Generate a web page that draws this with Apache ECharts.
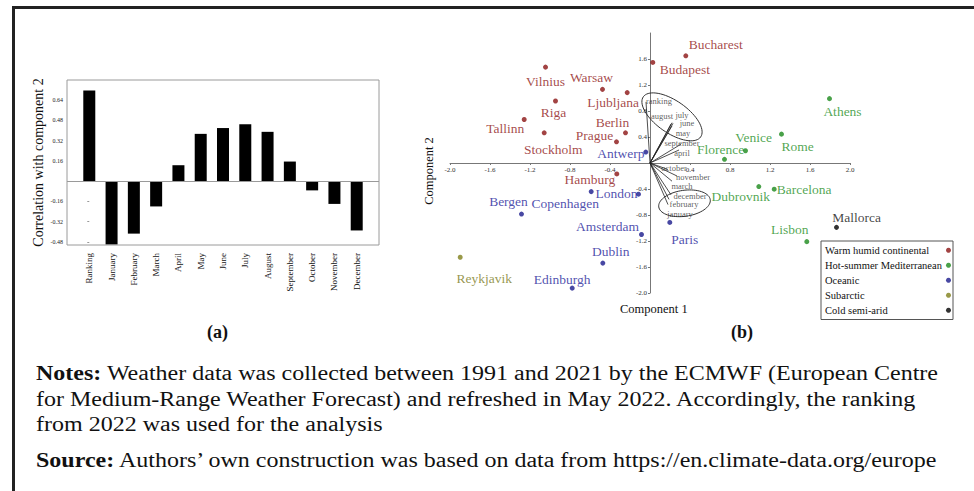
<!DOCTYPE html>
<html><head><meta charset="utf-8">
<script src="https://cdn.jsdelivr.net/npm/echarts@6/dist/echarts.min.js"></script>
<style>
html,body{margin:0;padding:0;background:#fff;}
#wrap{position:relative;width:974px;height:491px;overflow:hidden;background:#fff;}
#frame{position:absolute;left:12px;top:6px;width:970px;height:490px;border-top:3px solid #222;border-left:3px solid #222;}
#chart{position:absolute;left:0;top:0;width:974px;height:491px;}
#notes{position:absolute;left:36px;top:361px;font-family:'Liberation Serif','Times New Roman',serif;font-size:20px;line-height:25.5px;color:#111;white-space:nowrap;transform:scaleX(1.2);transform-origin:0 0;}
#notes b{font-weight:bold;}
</style></head><body>
<div id="wrap">
<div id="chart"></div>
<div id="frame"></div>
<div id="notes">
<div><b>Notes:</b> Weather data was collected between 1991 and 2021 by the ECMWF (European Centre</div>
<div>for Medium-Range Weather Forecast) and refreshed in May 2022. Accordingly, the ranking</div>
<div>from 2022 was used for the analysis</div>
<div style="margin-top:10px"><b>Source:</b> Authors’ own construction was based on data from https://en.climate-data.org/europe</div>
</div>
</div>
<script>
// ---------- Panel (a) data ----------
const barCategories = ['Ranking','January','February','March','April','May','June','July','August','September','October','November','December'];
const barValues = [0.717,-0.50,-0.415,-0.20,0.126,0.374,0.42,0.45,0.39,0.155,-0.073,-0.18,-0.39];
const barTickLabels = [-0.48,-0.32,-0.16,0.16,0.32,0.48,0.64];

// ---------- Panel (b) data ----------
const groupNames = ['Warm humid continental','Hot-summer Mediterranean','Oceanic','Subarctic','Cold semi-arid'];
const warmHumid = [['Vilnius',-1.045,1.475],['Warsaw',-0.475,1.133],['Ljubljana',-0.228,1.083],['Riga',-0.945,0.954],['Tallinn',-1.258,0.669],['Stockholm',-1.058,0.464],['Berlin',-0.245,0.464],['Prague',-0.335,0.326],['Hamburg',-0.332,-0.168],['Budapest',0.028,1.547],['Bucharest',0.358,1.649]];
const mediterranean = [['Athens',1.795,0.99],['Rome',1.315,0.444],['Venice',0.955,0.188],['Florence',0.745,0.057],['Dubrovnik',1.088,-0.363],['Barcelona',1.242,-0.403],['Lisbon',1.568,-1.21]];
const oceanic = [['Antwerp',-0.042,0.168],['London',-0.115,-0.48],['Copenhagen',-0.588,-0.44],['Bergen',-1.285,-0.786],['Paris',0.198,-0.914],['Amsterdam',-0.085,-1.10],['Dublin',-0.472,-1.54],['Edinburgh',-0.778,-1.925]];
const subarctic = [['Reykjavik',-1.898,-1.45]];
const coldSemiArid = [['Mallorca',1.865,-0.99]];

const loadingNames = ['ranking','august','july','june','may','september','april','october','november','march','december','february','january'];
const loadingX = [-0.04,0.21,0.22,0.23,0.22,0.31,0.29,0.18,0.27,0.22,0.21,0.19,0.18];
const loadingY = [0.94,0.60,0.62,0.61,0.57,0.29,0.20,-0.10,-0.20,-0.28,-0.49,-0.56,-0.64];

const biplotXTicks = [-2.0,-1.6,-1.2,-0.8,-0.4,0.4,0.8,1.2,1.6,2.0];
const biplotYTicks = [-2.0,-1.6,-1.2,-0.8,-0.4,0.4,0.8,1.2,1.6];

// ---------- presentation ----------
const groupColors = ['#8b1414','#1b8a1b','#1a1a8c','#7f7f1a','#000000'];
const labelColors = ['#8f1717','#1f8f1f','#24249a','#7c7c1c','#111111'];
const cityLabelOffset = {
  Vilnius:[0,14],Warsaw:[-11,-12],Ljubljana:[-14,10],Riga:[-2,12],Tallinn:[-19,9],Stockholm:[9,17],
  Berlin:[-13,-10],Prague:[-22,-6],Hamburg:[-27,6],Budapest:[32,7],Bucharest:[30,-11],
  Athens:[13,13],Rome:[16,12],Venice:[8,-13],Florence:[-4,-10],Dubrovnik:[-18,10],Barcelona:[30,0],Lisbon:[-17,-12],
  Antwerp:[-25,1],London:[-22,-1],Copenhagen:[-26,12],Bergen:[-13,-13],Paris:[15,17],Amsterdam:[-34,-8],
  Dublin:[8,-12],Edinburgh:[-10,-9],Reykjavik:[24,21],Mallorca:[20,-10]
};
const loadingLabelOffset = {
  ranking:[13,-1],august:[-9,-8],july:[10,-8],june:[14,0],may:[11,7],september:[1,-1],april:[3,3],
  october:[6,-2],november:[16,1],march:[10,5],december:[19,1],february:[15,5],january:[12,9]
};
const SERIF = "'Liberation Serif','Times New Roman',serif";

const chart = echarts.init(document.getElementById('chart'), null, {renderer:'svg'});

const groups = [warmHumid, mediterranean, oceanic, subarctic, coldSemiArid];
const scatterSeries = groups.map((g, gi) => ({
  type:'scatter', name: groupNames[gi], xAxisIndex:1, yAxisIndex:1,
  symbol:'circle', symbolSize:5,
  itemStyle:{color: groupColors[gi]},
  label:{show:true, position:'inside', fontFamily:SERIF, fontSize:13.5, color:labelColors[gi],
    textBorderWidth:0, textBorderColor:'transparent',
    formatter: p => p.name, align:'center', verticalAlign:'middle'},
  data: g.map(c => ({name:c[0], value:[c[1], c[2]], label:{offset: cityLabelOffset[c[0]], color:labelColors[gi]}})),
  z:5
}));

const option = {
  animation:false,
  color:['#333333'],
  grid:[
    {left:67, top:80, width:312, height:165, show:true, borderColor:'#9a9a9a', borderWidth:1, backgroundColor:'transparent'},
    {left:450, top:33, width:400, height:260, show:false}
  ],
  xAxis:[
    {gridIndex:0, type:'value', min:-1, max:13,
      axisLine:{show:false}, splitLine:{show:false}, axisTick:{show:false},
      axisLabel:{customValues: barCategories.map((c,i)=>i), formatter: v => barCategories[v] || '',
        rotate:90, fontFamily:SERIF, fontSize:9, color:'#111', margin:8}},
    {gridIndex:1, type:'value', min:-2, max:2, position:'bottom', offset:-130,
      axisLine:{onZero:false, lineStyle:{color:'#777', width:1}},
      splitLine:{show:false},
      axisTick:{show:true, length:2, customValues: biplotXTicks, lineStyle:{color:'#777'}},
      axisLabel:{customValues: biplotXTicks, formatter: v => v.toFixed(1), fontFamily:SERIF, fontSize:7, color:'#333', margin:3}}
  ],
  yAxis:[
    {gridIndex:0, type:'value', min:-0.505, max:0.80,
      axisLine:{show:false}, splitLine:{show:false},
      axisTick:{show:true, length:2, customValues: barTickLabels, lineStyle:{color:'#999'}},
      axisLabel:{customValues: barTickLabels, formatter: v => v.toFixed(2), fontFamily:SERIF, fontSize:6, color:'#222', margin:4},
      name:'Correlation with component 2', nameLocation:'middle', nameRotate:90, nameGap:22,
      nameTextStyle:{fontFamily:SERIF, fontSize:14, color:'#111'}},
    {gridIndex:1, type:'value', min:-2, max:2, position:'left', offset:-200,
      axisLine:{onZero:false, lineStyle:{color:'#777', width:1}},
      splitLine:{show:false},
      axisTick:{show:true, length:2, customValues: biplotYTicks, lineStyle:{color:'#777'}},
      axisLabel:{customValues: biplotYTicks, formatter: v => v.toFixed(1), fontFamily:SERIF, fontSize:7, color:'#333', margin:3}}
  ],
  legend:{
    data: groupNames, orient:'vertical', left:821, top:241, align:'right',
    icon:'circle', itemWidth:5, itemHeight:5, itemGap:0.5,
    padding:[2,2,2,4], borderColor:'#555', borderWidth:1, backgroundColor:'#fff',
    selectedMode:false,
    formatter: n => '{t|' + n + '}',
    textStyle:{fontFamily:SERIF, fontSize:10.5, color:'#111', lineHeight:14.5,
      rich:{t:{width:116, align:'left', fontFamily:SERIF, fontSize:10.5, color:'#111', lineHeight:14.5}}}
  },
  series:[
    {type:'bar', xAxisIndex:0, yAxisIndex:0, barWidth:12,
      itemStyle:{color:'#000'},
      data: barValues.map((v,i)=>[i,v]),
      markLine:{silent:true, symbol:'none', label:{show:false}, lineStyle:{color:'#9a9a9a', type:'solid', width:1},
        data:[{yAxis:0}]}},
    {type:'lines', coordinateSystem:'cartesian2d', xAxisIndex:1, yAxisIndex:1, polyline:false,
      lineStyle:{color:'#222', width:0.8, opacity:1},
      data: loadingNames.map((n,i)=>({coords:[[0,0],[loadingX[i],loadingY[i]]]})), z:3},
    {type:'scatter', name:'loadings', xAxisIndex:1, yAxisIndex:1, symbolSize:0,
      itemStyle:{color:'#333'},
      label:{show:true, position:'inside', fontFamily:SERIF, fontSize:8.5, color:'#333',
        textBorderWidth:0, textBorderColor:'transparent',
        formatter:p=>'{n|' + p.name + '}',
        rich:{n:{fontFamily:SERIF, fontSize:8.5, color:'#333333', textBorderWidth:0}}},
      data: loadingNames.map((n,i)=>({name:n, value:[loadingX[i],loadingY[i]], label:{offset:loadingLabelOffset[n]}})), z:4},
    ...scatterSeries
  ],
  graphic:[
    {type:'text', left:207, top:323, style:{text:'(a)', font:"bold 18px 'Liberation Serif', serif", fill:'#111'}},
    {type:'text', left:731, top:323, style:{text:'(b)', font:"bold 18px 'Liberation Serif', serif", fill:'#111'}},
    {type:'text', left:620, top:302, style:{text:'Component 1', font:"12.5px 'Liberation Serif', serif", fill:'#111'}},
    {type:'text', x:429, y:171, rotation:Math.PI/2, style:{text:'Component 2', font:"12.5px 'Liberation Serif', serif", fill:'#111', align:'center', verticalAlign:'middle'}}
  ]
};
chart.setOption(option);

// ellipses around the loading-label clusters (annotation)
const ellipseSpecs = [
  {center:[0.22,0.71], a:35, b:16, rot:-35},
  {center:[0.345,-0.62], a:26, b:13, rot:8}
];
function ellipsePoints(cx, cy, a, b, rotDeg){
  const pts = [], r = rotDeg*Math.PI/180;
  for(let k=0;k<72;k++){
    const t = k/72*2*Math.PI, ex = a*Math.cos(t), ey = b*Math.sin(t);
    pts.push([cx + ex*Math.cos(r) + ey*Math.sin(r), cy - ex*Math.sin(r) + ey*Math.cos(r)]);
  }
  return pts;
}
const ellGraphics = ellipseSpecs.map(e => {
  const c = chart.convertToPixel({gridIndex:1}, e.center);
  return {type:'polygon', shape:{points: ellipsePoints(c[0], c[1], e.a, e.b, e.rot)}, style:{fill:'none', stroke:'#333', lineWidth:1}, z:10, silent:true};
});
chart.setOption({graphic: option.graphic.concat(ellGraphics)});
</script>
</body></html>
